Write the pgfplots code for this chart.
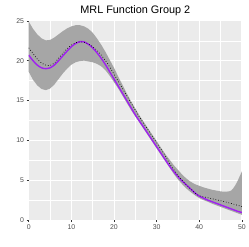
\documentclass[border=0pt]{standalone}
\usepackage{fontspec}
\setmainfont{Liberation Sans}
\usepackage{pgfplots}
\pgfplotsset{compat=1.18}
\definecolor{panel}{RGB}{235,235,235}
\definecolor{band}{RGB}{166,166,166}
\definecolor{rpurple}{RGB}{160,32,240}
\definecolor{tickcol}{RGB}{77,77,77}
\definecolor{tickmark}{RGB}{51,51,51}
\begin{document}
\begin{tikzpicture}
\begin{axis}[
  at={(0,0)}, anchor=south west,
  scale only axis, width=215bp, height=201bp,
  xmin=0, xmax=50, ymin=0, ymax=25,
  xtick={0,10,20,30,40,50}, ytick={0,5,10,15,20,25},
  minor xtick={5,15,25,35,45}, minor ytick={2.5,7.5,12.5,17.5,22.5},
  grid=both,
  major grid style={white, line width=0.9bp},
  minor grid style={white, line width=0.45bp},
  axis background/.style={fill=panel},
  axis line style={draw=none},
  tick align=outside, tick pos=left,
  major tick length=2.2bp, minor tick length=0bp,
  tick style={tickmark, line width=0.5bp},
  ticklabel style={font=\fontsize{7}{8}\selectfont, text=tickcol},
  /pgf/number format/assume math mode=true,
  xticklabel style={yshift=1bp},
  yticklabel style={xshift=1bp},
  title={MRL Function Group 2},
  every axis title/.style={at={(0.5,1)}, anchor=base, yshift=7bp, inner sep=0pt, font=\fontsize{11}{13}\selectfont},
]
\addplot[fill=band, draw=none, forget plot] coordinates {
(0,24.9)(1,24.0)(2,23.3)(3,22.8)(4,22.55)(5,22.6)(6,22.9)(7,23.3)(8,23.7)(9,24.05)(10,24.3)(11,24.45)(12,24.45)(13,24.3)(14,24.0)(15,23.5)(16,22.8)(17,22.0)(18,21.1)(19,20.1)(20,19.1)(21,18.0)(22,16.95)(23,15.9)(24,14.9)(25,14.0)(26,13.1)(27,12.3)(28,11.5)(29,10.7)(30,9.9)(31,9.1)(32,8.3)(33,7.6)(34,6.9)(35,6.3)(36,5.7)(37,5.2)(38,4.8)(39,4.5)(40,4.3)(41,4.1)(42,3.95)(43,3.8)(44,3.7)(45,3.6)(46,3.55)(47,3.6)(47.5,3.7)(48,4.0)(48.5,4.4)(49,4.9)(49.5,5.5)(50,6.1)
(50,0.66)(49,0.85)(48,1.05)(47,1.25)(46,1.45)(45,1.65)(44,1.85)(43,2.05)(42,2.3)(41,2.5)(40,2.75)(39,3.1)(38,3.5)(37,3.95)(36,4.5)(35,5.1)(34,5.8)(33,6.6)(32,7.4)(31,8.2)(30,9.0)(29,9.8)(28,10.6)(27,11.4)(26,12.2)(25,13.0)(24,13.8)(23,14.7)(22,15.6)(21,16.5)(20,17.3)(19,18.1)(18,18.8)(17,19.3)(16,19.6)(15,19.8)(14,19.9)(13,20.0)(12,19.95)(11,19.8)(10,19.5)(9,19.0)(8,18.4)(7,17.7)(6,17.0)(5,16.5)(4,16.3)(3,16.45)(2,16.9)(1,17.6)(0,18.6)
};
\addplot[rpurple, line width=1.4bp, smooth] coordinates {
(0,20.7)(1,20.0)(2,19.45)(3,19.1)(4,19.0)(5,19.1)(6,19.45)(7,20.0)(8,20.6)(9,21.2)(10,21.75)(11,22.15)(12,22.38)(13,22.35)(14,22.05)(15,21.6)(16,21.0)(17,20.3)(18,19.5)(19,18.6)(20,17.7)(21,16.8)(22,15.9)(23,15.0)(24,14.1)(25,13.2)(26,12.4)(27,11.6)(28,10.8)(29,10.0)(30,9.2)(31,8.4)(32,7.6)(33,6.8)(34,6.1)(35,5.45)(36,4.9)(37,4.4)(38,3.9)(39,3.4)(40,3.0)(41,2.75)(42,2.5)(43,2.3)(44,2.1)(45,1.9)(46,1.7)(47,1.5)(48,1.3)(49,1.1)(50,0.95)
};
\addplot[black, line width=0.7bp, dotted, smooth] coordinates {
(0,21.6)(1,20.9)(2,20.2)(3,19.7)(4,19.45)(5,19.4)(6,19.7)(7,20.3)(8,20.9)(9,21.5)(10,21.95)(11,22.25)(12,22.35)(13,22.3)(14,22.1)(15,21.75)(16,21.3)(17,20.7)(18,20.0)(19,19.2)(20,18.3)(21,17.4)(22,16.5)(23,15.6)(24,14.7)(25,13.8)(26,12.9)(27,12.1)(28,11.3)(29,10.5)(30,9.7)(31,8.9)(32,8.1)(33,7.1)(34,6.35)(35,5.6)(36,5.0)(37,4.4)(38,3.9)(39,3.4)(40,3.05)(42,2.8)(44,2.55)(46,2.3)(48,2.0)(50,1.7)
};
\end{axis}
\path (-29bp,-27bp) rectangle (220bp,222bp);
\end{tikzpicture}
\end{document}
